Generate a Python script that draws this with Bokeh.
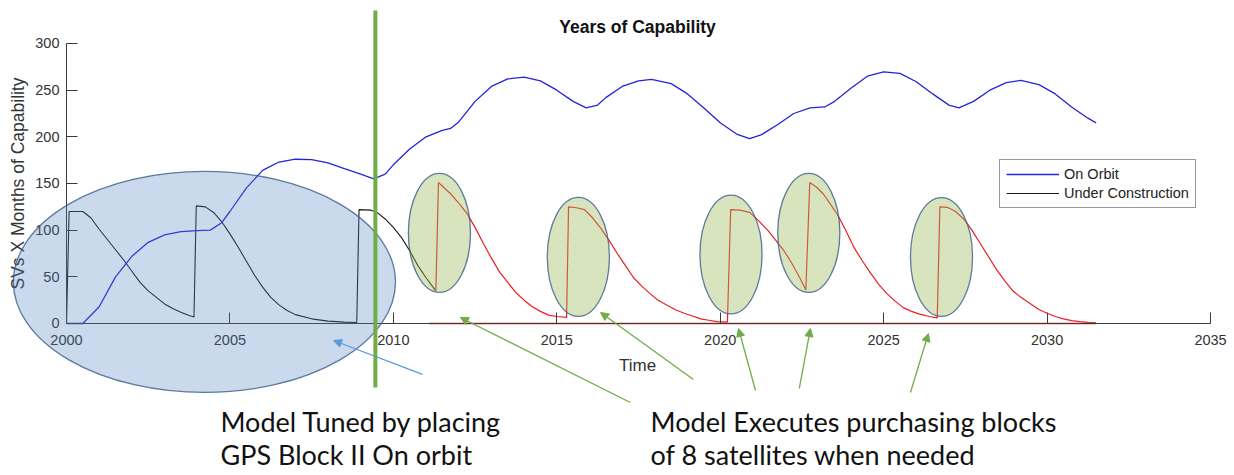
from bokeh.plotting import figure
from bokeh.models import (LinearAxis, FixedTicker, Range1d, ColumnDataSource, Arrow,
                          NormalHead, Legend, LegendItem)
from bokeh.core.properties import value
from bokeh.embed import file_html
from bokeh.resources import INLINE
import math

# ---------------- data ----------------
x_ticks = [2000, 2005, 2010, 2015, 2020, 2025, 2030, 2035]
y_ticks = [0, 50, 100, 150, 200, 250, 300]

orbit_years = [2000.0, 2000.5, 2001.0, 2001.5, 2002.0, 2002.5, 2003.0, 2003.5, 2004.0, 2004.4,
               2004.75, 2005.0, 2005.5, 2006.0, 2006.5, 2007.0, 2007.5, 2008.0, 2008.5, 2009.0,
               2009.4, 2009.75, 2010.0, 2010.5, 2011.0, 2011.5, 2011.75, 2012.0, 2012.5, 2013.0,
               2013.5, 2014.0, 2014.5, 2015.0, 2015.5, 2015.9, 2016.25, 2016.5, 2017.0, 2017.5,
               2017.9, 2018.5, 2019.0, 2019.5, 2020.0, 2020.5, 2020.9, 2021.25, 2021.75, 2022.25,
               2022.75, 2023.2, 2023.5, 2024.0, 2024.5, 2025.0, 2025.5, 2026.0, 2026.5, 2027.0,
               2027.3, 2027.75, 2028.25, 2028.75, 2029.2, 2029.75, 2030.25, 2030.75, 2031.25, 2031.5]
orbit_values = [0, 0, 18, 50, 72, 87, 95, 98.5, 99.5, 100,
                108, 120, 145, 164, 173, 176, 175.5, 172, 166, 160,
                155, 160, 170, 187, 200, 207, 209, 216, 238, 254,
                262, 264, 260, 250, 238, 231, 234, 242, 254, 260,
                261.5, 257, 246, 231, 215, 203, 198, 202, 213, 225,
                231, 232, 238, 252, 265, 269.5, 268, 259, 246, 234,
                231, 238, 250, 258, 260.5, 256, 246, 232, 220, 215]

construction_years = [2000.0, 2000.08, 2000.5, 2000.75, 2001.0, 2001.25, 2001.5, 2001.75, 2002.0,
                      2002.25, 2002.5, 2002.75, 2003.0, 2003.25, 2003.5, 2003.75, 2003.9,
                      2003.97, 2004.25, 2004.5, 2004.75, 2005.0, 2005.25, 2005.5, 2005.75, 2006.0,
                      2006.25, 2006.5, 2006.75, 2007.0, 2007.5, 2008.0, 2008.5, 2008.88,
                      2008.95, 2009.3, 2009.5, 2009.75, 2010.0, 2010.25, 2010.5, 2010.75,
                      2011.0, 2011.3]
construction_values = [0, 120, 120, 113, 101, 90, 79, 68, 56,
                       44, 35, 28, 21, 16, 12, 8.5, 7,
                       126, 125, 119, 109, 96, 82, 67, 52, 39,
                       28, 20, 14, 9.5, 5, 2.5, 1.5, 1,
                       122, 121.5, 119, 112, 103, 92, 78, 62,
                       49, 35]

simulated_years = [2011.3, 2011.38, 2011.75, 2012.0, 2012.25, 2012.5, 2012.75, 2013.0, 2013.25,
                   2013.5, 2013.75, 2014.0, 2014.25, 2014.5, 2014.75, 2015.0, 2015.3,
                   2015.36, 2015.6, 2015.85, 2016.1, 2016.35, 2016.6, 2016.85, 2017.1, 2017.35,
                   2017.6, 2017.85, 2018.1, 2018.4, 2018.65, 2018.9, 2019.15, 2019.4, 2019.65,
                   2019.9, 2020.22, 2020.32, 2020.6, 2020.9, 2021.15, 2021.45, 2021.7, 2021.95,
                   2022.2, 2022.45, 2022.62, 2022.74, 2022.95, 2023.15, 2023.35, 2023.6, 2023.85,
                   2024.1, 2024.35, 2024.6, 2024.85, 2025.1, 2025.35, 2025.6, 2025.85, 2026.1,
                   2026.4, 2026.64, 2026.72, 2026.95, 2027.2, 2027.45, 2027.7, 2027.95, 2028.2,
                   2028.45, 2028.7, 2028.95, 2029.2, 2029.5, 2029.75, 2030.0, 2030.25, 2030.5,
                   2030.75, 2031.0, 2031.25, 2031.5]
simulated_values = [35, 151, 139, 129, 118, 103, 86, 70, 55,
                    44, 33, 25, 18, 13, 9, 7.5, 6.5,
                    125, 124, 122, 113, 102, 89, 75, 62, 49,
                    40, 32, 25, 19, 14.5, 11, 8, 5, 3.5,
                    2, 1.5, 122, 121.5, 119, 111, 100, 89, 78,
                    64, 48, 36, 151, 146, 139, 129, 116, 99,
                    81, 67, 54, 42, 32, 24, 17, 13, 10,
                    7.5, 6, 125, 124.5, 120, 112, 100, 86, 72,
                    58, 46, 35, 28, 21, 15, 11, 7.5, 5,
                    3, 2, 1.2, 0.8]

baseline_years = [2011.1, 2031.5]
baseline_values = [0, 0]

# annotation shapes
block_ellipse_x = [2011.41, 2015.66, 2020.33, 2022.71, 2026.77]
block_ellipse_y = [97.0, 71.3, 73.9, 97.0, 71.3]
block_ellipse_w = [1.90, 1.90, 1.90, 1.90, 1.90]
block_ellipse_h = [127.5, 127.5, 127.5, 127.5, 127.5]

tuned_ellipse_x = [2004.22]
tuned_ellipse_y = [44.5]
tuned_ellipse_w = [11.69]
tuned_ellipse_h = [236.8]

marker_line_x = [2009.45]
marker_line_y0 = [-68.6]
marker_line_y1 = [335.4]

green_arrow_x_start = [2017.25, 2019.18, 2021.08, 2022.42, 2025.82]
green_arrow_y_start = [-84.6, -60.0, -71.8, -69.6, -73.9]
green_arrow_x_end = [2012.05, 2016.34, 2020.56, 2022.76, 2026.37]
green_arrow_y_end = [6.4, 11.8, -5.4, -5.4, -10.7]

blue_arrow_x_start = [2010.89]
blue_arrow_y_start = [-54.6]
blue_arrow_x_end = [2008.17]
blue_arrow_y_end = [-18.2]

note_left = ["Model Tuned by placing", "GPS Block II On orbit"]
note_right = ["Model Executes purchasing blocks", "of 8 satellites when needed"]

# ---------------- figure ----------------
W, H = 1234, 475
p = figure(width=W, height=H,
           x_range=Range1d(1997.981, 2035.734), y_range=Range1d(-162.86, 346.07),
           output_backend="svg", toolbar_location=None,
           x_axis_location=None, y_axis_location=None,
           min_border=0, outline_line_color=None)
p.xgrid.grid_line_color = None
p.ygrid.grid_line_color = None
p.background_fill_color = "white"
p.border_fill_color = "white"

axis_color = "#3a3a3a"
label_color = "#333333"
tick_font = "Liberation Sans"

xaxis = LinearAxis(fixed_location=0, bounds=(2000, 2035), ticker=FixedTicker(ticks=x_ticks),
                   major_tick_in=11, major_tick_out=0, minor_tick_line_color=None,
                   axis_line_color=axis_color, major_tick_line_color=axis_color,
                   major_label_text_font=tick_font, major_label_text_font_size="14.5px",
                   major_label_text_color=label_color, major_label_standoff=12)
p.add_layout(xaxis, "below")
yaxis = LinearAxis(fixed_location=2000, bounds=(0, 300), ticker=FixedTicker(ticks=y_ticks),
                   major_tick_in=11, major_tick_out=0, minor_tick_line_color=None,
                   axis_line_color=axis_color, major_tick_line_color=axis_color,
                   major_label_text_font=tick_font, major_label_text_font_size="14.5px",
                   major_label_text_color=label_color, major_label_standoff=7)
p.add_layout(yaxis, "left")

# texts (title, axis labels)
p.text(x=[2017.47], y=[317.2], text=["Years of Capability"], text_align="center",
       text_baseline="alphabetic", text_font=value("Liberation Sans"), text_font_style="bold",
       text_font_size="17.5px", text_color="#111111")
p.text(x=[2017.47], y=[-45.0], text=["Time"], text_align="center", text_baseline="alphabetic",
       text_font=value("Liberation Sans"), text_font_size="17px", text_color=label_color)
p.text(x=[1998.53], y=[150.0], text=["SVs X Months of Capability"], angle=math.pi / 2,
       text_align="center", text_baseline="alphabetic", text_font=value("Liberation Sans"),
       text_font_size="17.5px", text_color=label_color)

# data lines
r_con = p.line(construction_years, construction_values, line_color="#1a1a1a", line_width=1.1)
r_sim = p.line(simulated_years, simulated_values, line_color="#ee1c24", line_width=1.2)
p.line(baseline_years, baseline_values, line_color="#ee1c24", line_width=1.3)
r_orb = p.line(orbit_years, orbit_values, line_color="#2424dc", line_width=1.3)

# ellipses (annotation overlays)
p.ellipse(x=tuned_ellipse_x, y=tuned_ellipse_y, width=tuned_ellipse_w, height=tuned_ellipse_h,
          fill_color="#4f81bd", fill_alpha=0.3, line_color="#385d8a", line_alpha=0.8,
          line_width=1.3, level="annotation")
p.ellipse(x=block_ellipse_x, y=block_ellipse_y, width=block_ellipse_w, height=block_ellipse_h,
          fill_color="#9bbb59", fill_alpha=0.4, line_color="#385d8a", line_alpha=0.8,
          line_width=1.3, level="annotation")
p.segment(x0=marker_line_x, y0=marker_line_y0, x1=marker_line_x, y1=marker_line_y1,
          line_color="#70ad47", line_width=4, level="annotation")

green_src = ColumnDataSource(dict(x0=green_arrow_x_start, y0=green_arrow_y_start,
                                  x1=green_arrow_x_end, y1=green_arrow_y_end))
p.add_layout(Arrow(source=green_src, x_start="x0", y_start="y0", x_end="x1", y_end="y1",
                   line_color="#70ad47", line_width=1.3,
                   end=NormalHead(size=8, fill_color="#70ad47", line_color="#70ad47")))
blue_src = ColumnDataSource(dict(x0=blue_arrow_x_start, y0=blue_arrow_y_start,
                                 x1=blue_arrow_x_end, y1=blue_arrow_y_end))
p.add_layout(Arrow(source=blue_src, x_start="x0", y_start="y0", x_end="x1", y_end="y1",
                   line_color="#5b9bd5", line_width=1.3,
                   end=NormalHead(size=8, fill_color="#5b9bd5", line_color="#5b9bd5")))

# big notes
p.text(x=[2004.71, 2004.71], y=[-105.0, -140.3], text=note_left, text_align="left",
       text_baseline="alphabetic", text_font=value("Lato"), text_font_size="27px",
       text_color="#111111")
p.text(x=[2017.87, 2017.87], y=[-105.0, -140.3], text=note_right, text_align="left",
       text_baseline="alphabetic", text_font=value("Lato"), text_font_size="27px",
       text_color="#111111")

legend = Legend(items=[LegendItem(label="On Orbit", renderers=[r_orb]),
                       LegendItem(label="Under Construction", renderers=[r_con])],
                location=(999, 267), padding=6, spacing=3, label_height=16, glyph_height=16,
                glyph_width=53, label_standoff=5, label_text_font="Liberation Sans",
                label_text_font_size="14.5px", label_text_color="#222222",
                border_line_color="#333333", border_line_width=1, background_fill_alpha=1.0,
                margin=0)
p.add_layout(legend)

open("out.html", "w").write(file_html(p, INLINE))
